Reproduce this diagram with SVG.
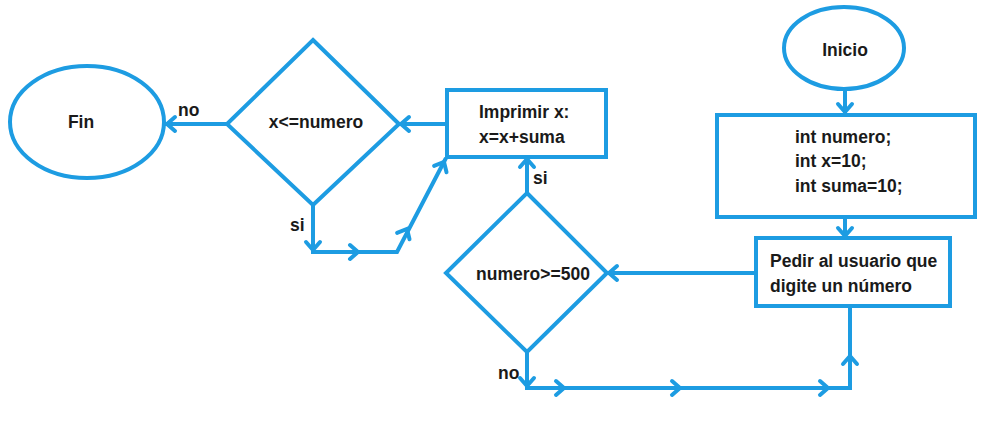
<svg xmlns="http://www.w3.org/2000/svg" xmlns:xlink="http://www.w3.org/1999/xlink" width="1006" height="431" viewBox="0 0 1006 431">
<style>
.shape{fill:#ffffff;stroke:#1d9ce2;stroke-width:4;}
.line{fill:none;stroke:#1d9ce2;stroke-width:4;stroke-linejoin:miter;}
.chev{fill:none;stroke:#1d9ce2;stroke-width:4;stroke-linecap:round;stroke-linejoin:miter;}
text{font-family:"Liberation Sans",Arial,sans-serif;font-size:17.5px;font-weight:bold;fill:#1a1a1a;}
.mid{text-anchor:middle;}
</style>
<defs>
<path id="chev" class="chev" d="M-8,-7 L0,0 L-8,7"/>
</defs>
<rect width="1006" height="431" fill="#ffffff"/>
<g id="connectors">
<path class="line" d="M845,89 L845,115"/>
<path class="line" d="M845,217 L845,238"/>
<path class="line" d="M756,273 L607,273"/>
<path class="line" d="M527,193 L527,157"/>
<path class="line" d="M527,352 L527,388 L850,388 L850,306"/>
<path class="line" d="M447,124 L399,124"/>
<path class="line" d="M227,124 L165,124"/>
<path class="line" d="M313,205 L313,252 L397,252 L446,158"/>
<use xlink:href="#chev" transform="translate(845,112) rotate(90)"/>
<use xlink:href="#chev" transform="translate(845,236) rotate(90)"/>
<use xlink:href="#chev" transform="translate(609,273) rotate(180)"/>
<use xlink:href="#chev" transform="translate(527,159) rotate(-90)"/>
<use xlink:href="#chev" transform="translate(527,386) rotate(90)"/>
<use xlink:href="#chev" transform="translate(564,388)"/>
<use xlink:href="#chev" transform="translate(680,388)"/>
<use xlink:href="#chev" transform="translate(828,388)"/>
<use xlink:href="#chev" transform="translate(850,356) rotate(-90)"/>
<use xlink:href="#chev" transform="translate(401,124) rotate(180)"/>
<use xlink:href="#chev" transform="translate(167,124) rotate(180)"/>
<use xlink:href="#chev" transform="translate(313,250) rotate(90)"/>
<use xlink:href="#chev" transform="translate(358,252)"/>
<use xlink:href="#chev" transform="translate(407,229) rotate(-62.5)"/>
<use xlink:href="#chev" transform="translate(444,162) rotate(-62.5)"/>
</g>
<g id="inicio">
<ellipse class="shape" cx="844" cy="48" rx="60" ry="41"/>
<text class="mid" x="845" y="56">Inicio</text>
</g>
<g id="declaraciones">
<rect class="shape" x="717" y="115" width="258" height="102"/>
<text x="795" y="143">int numero;</text>
<text x="795" y="167">int x=10;</text>
<text x="795" y="192">int suma=10;</text>
</g>
<g id="pedir">
<rect class="shape" x="756" y="238" width="194" height="68"/>
<text x="770" y="267">Pedir al usuario que</text>
<text x="770" y="292">digite un número</text>
</g>
<g id="cond-numero">
<polygon class="shape" points="527,193 607,273 527,352 446,273"/>
<text class="mid" x="533" y="280">numero&gt;=500</text>
<text x="533" y="184">si</text>
<text x="498" y="379">no</text>
</g>
<g id="imprimir">
<rect class="shape" x="447" y="90" width="159" height="67"/>
<text x="479" y="118">Imprimir x:</text>
<text x="479" y="143">x=x+suma</text>
</g>
<g id="cond-x">
<polygon class="shape" points="313,40 399,124 313,205 227,124"/>
<text class="mid" x="316" y="128">x&lt;=numero</text>
<text x="178" y="116">no</text>
<text x="290" y="231">si</text>
</g>
<g id="fin">
<ellipse class="shape" cx="87" cy="122" rx="77" ry="56"/>
<text class="mid" x="81" y="128">Fin</text>
</g>
</svg>
